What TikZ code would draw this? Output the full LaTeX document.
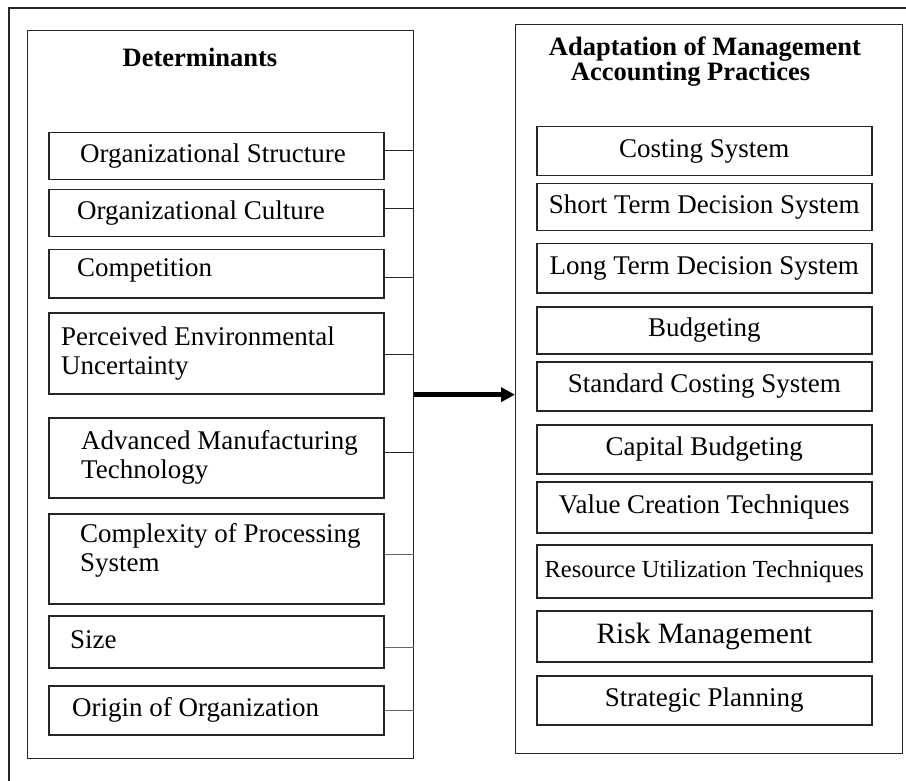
\documentclass[tikz,border=0pt]{standalone}
\usepackage{fontspec}
\setmainfont{Liberation Serif}
\usetikzlibrary{shapes,arrows.meta,positioning}
\setlength{\lineskiplimit}{-50pt}

\begin{document}
\begin{tikzpicture}[x=1pt,y=-1pt]
\tikzset{every node/.style={inner sep=2pt}}
\tikzset{frame/.style={draw=black!85,line width=1.3pt,anchor=north west}}
\tikzset{item/.style={draw=black!85,line width=1.5pt,minimum width=335pt,anchor=north west}}
\tikzset{itemtext/.style={font=\fontsize{27}{29}\selectfont,align=left}}
\tikzset{mapitem/.style={item,font=\fontsize{27}{29}\selectfont}}
\tikzset{heading/.style={font=\bfseries\fontsize{26.5}{25}\selectfont,align=left}}
\tikzset{conn/.style={draw=black!85,line width=1.2pt}}
\tikzset{thinconn/.style={draw=black!60,line width=0.8pt}}
\tikzset{flow/.style={draw=black,line width=4.5pt,-{Triangle[length=14pt,width=14pt]}}}
\useasboundingbox (0,0) rectangle (906,781);

% outer frame, open on the right and at the bottom
\draw[line width=2pt,black!85] (9,781) -- (9,8.5) -- (906,8.5);

% left column: determinants
\node[frame,minimum width=386pt,minimum height=728pt] (det) at (27,30) {};
\node[heading,anchor=base] (detttl) at (200,67) {Determinants};
\node[item,minimum height=47pt] (d1) at (48,132) {};
\node[item,minimum height=47pt] (d2) at (48,189) {};
\node[item,minimum height=48pt] (d3) at (48,249) {};
\node[item,minimum height=81pt] (d4) at (48,312) {};
\node[item,minimum height=80pt] (d5) at (48,417) {};
\node[item,minimum height=90pt] (d6) at (48,513) {};
\node[item,minimum height=52pt] (d7) at (48,615) {};
\node[item,minimum height=49pt] (d8) at (48,685) {};
\node[itemtext,right=30pt of d1.west] (d1t) {Organizational Structure};
\node[itemtext,right=27pt of d2.west] (d2t) {Organizational Culture};
\node[itemtext,right=27pt of d3.west,yshift=3pt] (d3t) {Competition};
\node[itemtext,right=11pt of d4.west] (d4t) {Perceived Environmental\\Uncertainty};
\node[itemtext,right=31pt of d5.west] (d5t) {Advanced Manufacturing\\Technology};
\node[itemtext,right=30pt of d6.west,yshift=8pt] (d6t) {Complexity of Processing\\System};
\node[itemtext,right=20pt of d7.west,yshift=2pt] (d7t) {Size};
\node[itemtext,right=22pt of d8.west] (d8t) {Origin of Organization};

% ties to the column border
\draw[conn] ([yshift=5.5pt]d1.east) -- ([yshift=5.5pt]d1.east -| det.east);
\draw[conn] ([yshift=4.5pt]d2.east) -- ([yshift=4.5pt]d2.east -| det.east);
\draw[conn] ([yshift=-4pt]d3.east) -- ([yshift=-4pt]d3.east -| det.east);
\draw[conn] ([yshift=-1.5pt]d4.east) -- ([yshift=-1.5pt]d4.east -| det.east);
\draw[conn] ([yshift=5pt]d5.east) -- ([yshift=5pt]d5.east -| det.east);
\draw[thinconn] ([yshift=4pt]d6.east) -- ([yshift=4pt]d6.east -| det.east);
\draw[thinconn] ([yshift=-6pt]d7.east) -- ([yshift=-6pt]d7.east -| det.east);
\draw[thinconn] (d8.east) -- (d8.east -| det.east);

% right column: practices
\node[frame,minimum width=387pt,minimum height=729pt] (map) at (515,24) {};
\node[heading] (mapttl) at (705,62) {Adaptation of Management\\\hspace*{22pt}Accounting Practices};
\node[mapitem,minimum height=49pt] (p1) at (536,126) {Costing System};
\node[mapitem,minimum height=47pt] (p2) at (536,183) {Short Term Decision System};
\node[mapitem,minimum height=49pt] (p3) at (536,243) {Long Term Decision System};
\node[mapitem,minimum height=47pt] (p4) at (536,306) {Budgeting};
\node[mapitem,minimum height=49pt] (p5) at (536,361) {Standard Costing System};
\node[mapitem,minimum height=49pt] (p6) at (536,424) {Capital Budgeting};
\node[mapitem,minimum height=51pt] (p7) at (536,481) {Value Creation Techniques};
\node[mapitem,minimum height=53pt,font=\fontsize{24.5}{26}\selectfont] (p8) at (536,544) {Resource Utilization Techniques};
\node[mapitem,minimum height=51pt,font=\fontsize{29.5}{31}\selectfont] (p9) at (536,610) {Risk Management};
\node[mapitem,minimum height=49pt] (p10) at (536,675) {Strategic Planning};

\draw[flow] (det.east) -- (det.east -| map.west);
\end{tikzpicture}
\end{document}
